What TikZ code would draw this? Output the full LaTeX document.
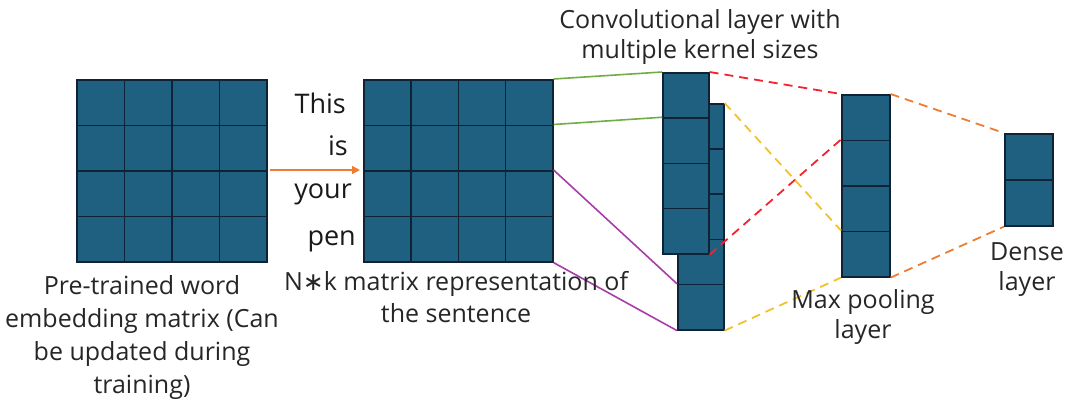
\documentclass[tikz,border=0pt]{standalone}
\usepackage{fontspec}
\setmainfont{Open Sans}
\newfontfamily\dvfont{DejaVu Sans}
\usetikzlibrary{arrows.meta}
\definecolor{cellfill}{HTML}{1F5F80}
\definecolor{cellline}{HTML}{0E2436}
\definecolor{cgreen}{HTML}{70AD47}
\definecolor{cpurple}{HTML}{A83CA8}
\definecolor{cred}{HTML}{F5222D}
\definecolor{cyellow}{HTML}{F2C12E}
\definecolor{corange}{HTML}{ED7D31}
\begin{document}
\begin{tikzpicture}[x=1pt,y=-1pt,
  cell/.style={draw=cellline, fill=cellfill, line width=1.6pt, inner sep=0pt, anchor=north west},
  lbl/.style={font=\fontsize{25}{32}\selectfont, align=center, inner sep=0pt, text=black!85},
  word/.style={font=\fontsize{27}{30}\selectfont, inner sep=0pt, anchor=base east, text=black!90},
  conn/.style={line width=1.6pt},
  dconn/.style={line width=1.8pt, dash pattern=on 9pt off 6pt}]
\useasboundingbox (0,0) rectangle (1066,400);
% pre-trained matrix
\foreach \r in {1,...,4}
  \foreach \c in {1,...,4}
    \node[cell, minimum width=47.5pt, minimum height=45.5pt] (ma-\r-\c) at ({76+47.5*(\c-1)},{79+45.5*(\r-1)}) {};
% sentence matrix
\foreach \r in {1,...,4}
  \foreach \c in {1,...,4}
    \node[cell, minimum width=47.25pt, minimum height=45.5pt] (mb-\r-\c) at ({363+47.25*(\c-1)},{79+45.5*(\r-1)}) {};
% conv column behind
\foreach \r in {1,...,5}
  \node[cell, minimum width=46pt, minimum height=45.2pt] (cb-\r) at (677,{103+45.2*(\r-1)}) {};
% conv column front
\foreach \r in {1,...,4}
  \node[cell, minimum width=46pt, minimum height=45.25pt] (ca-\r) at (662,{72+45.25*(\r-1)}) {};
% max pooling
\foreach \r in {1,...,4}
  \node[cell, minimum width=48pt, minimum height=45.5pt] (mp-\r) at (841,{94+45.5*(\r-1)}) {};
% dense
\foreach \r in {1,...,2}
  \node[cell, minimum width=48pt, minimum height=46pt] (dn-\r) at (1004,{133+46*(\r-1)}) {};

% words
\node[word] (w1) at (346,113) {This};
\node[word] (w2) at (348,155) {is};
\node[word] (w3) at (352,198) {your};
\node[word] (w4) at (356,245) {pen};

% arrow
\draw[conn, corange, -{Triangle[length=8pt,width=8pt]}, shorten <=2pt, shorten >=3pt] (ma-3-4.north east) -- (mb-3-1.north west);

% green
\draw[conn, cgreen] (mb-1-4.north east) -- (ca-1.north west);
\draw[conn, cgreen] (mb-2-4.north east) -- (ca-2.north west);
% purple
\draw[conn, cpurple] (mb-3-4.north east) -- (cb-5.north west);
\draw[conn, cpurple] (mb-4-4.south east) -- (cb-5.south west);
% red
\draw[dconn, cred] (ca-1.north east) -- (mp-1.north west);
\draw[dconn, cred] (ca-4.south east) -- (mp-2.north west);
% yellow
\draw[dconn, cyellow] (cb-1.north east) -- (mp-4.north west);
\draw[dconn, cyellow] (cb-5.south east) -- (mp-4.south west);
% orange
\draw[dconn, corange] (mp-1.north east) -- (dn-1.north west);
\draw[dconn, corange] (mp-4.south east) -- (dn-2.south west);

% labels (anchor=base is the last line's baseline)
\node[lbl, anchor=base, font=\fontsize{25}{30}\selectfont] (lconv) at (700,58) {Convolutional layer with\\multiple kernel sizes};
\node[lbl, anchor=base, font=\fontsize{25}{33}\selectfont] (lpre) at (142,393) {Pre-trained word\\embedding matrix (Can\\be updated during\\training)};
\node[lbl, anchor=base] (lnk) at (456,322) {N{\dvfont ∗}k matrix representation of\\the sentence};
\node[lbl, anchor=base, font=\fontsize{25}{30}\selectfont] (lmax) at (863,338) {Max pooling\\layer};
\node[lbl, anchor=base, font=\fontsize{25}{30}\selectfont] (ldense) at (1027,290) {Dense\\layer};
\end{tikzpicture}
\end{document}
